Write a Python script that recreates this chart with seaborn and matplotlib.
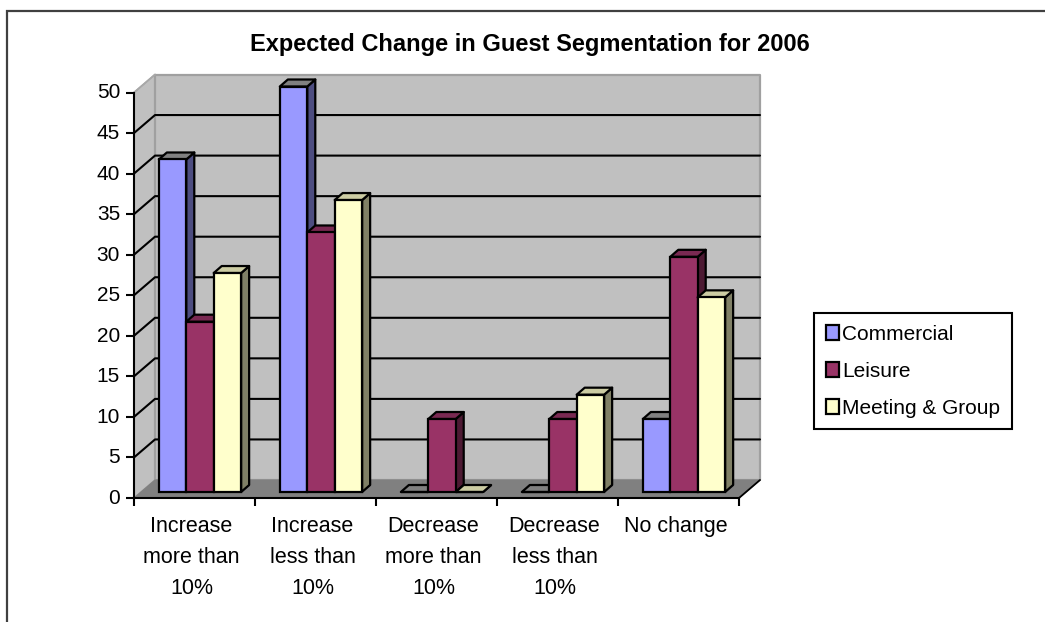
import matplotlib
matplotlib.use("Agg")
import matplotlib.pyplot as plt
import seaborn as sns
import pandas as pd
from matplotlib.patches import Polygon, Rectangle
from matplotlib.transforms import Affine2D, IdentityTransform

categories = ["Increase\nmore than\n10%", "Increase\nless than\n10%", "Decrease\nmore than\n10%",
              "Decrease\nless than\n10%", "No change"]
series = ["Commercial", "Leisure", "Meeting & Group"]
commercial = [41, 50, 0, 0, 9]
leisure = [21, 32, 9, 9, 29]
meeting = [27, 36, 0, 12, 24]
y_ticks = list(range(0, 55, 5))
title = "Expected Change in Guest Segmentation for 2006"

front = {"Commercial": "#9999FF", "Leisure": "#993366", "Meeting & Group": "#FFFFCC"}
side = {"Commercial": "#4D4D80", "Leisure": "#4D1A33", "Meeting & Group": "#808066"}
top = {"Commercial": "#808080", "Leisure": "#7A2952", "Meeting & Group": "#CCCCA3"}

df = pd.DataFrame({"category": categories * 3,
                   "series": [s for s in series for _ in categories],
                   "value": commercial + leisure + meeting})

sns.set_theme(style="white")
plt.rcParams["font.family"] = ["Liberation Sans", "DejaVu Sans"]

W, H = 1045, 622
fig = plt.figure(figsize=(W / 100, H / 100), dpi=100, facecolor="white")
fig.add_artist(Rectangle((7 / W, -0.02), 1.1, 1 - 11 / H + 0.02, transform=fig.transFigure,
                         fc="white", ec="#404040", lw=1.6, zorder=-5))
ax = fig.add_axes([134 / W, 1 - 498 / H, 605 / W, 405.5 / H])
ax.patch.set_alpha(0)

sns.barplot(data=df, x="category", y="value", hue="series", order=categories, hue_order=series,
            palette=front, width=0.68, saturation=1, edgecolor="black", linewidth=1.6, ax=ax)
ax.set_xlim(-0.5, 4.5)
ax.set_ylim(0, 50)
ax.set_xlabel("")
ax.set_ylabel("")

DEPTH = (21, 18)
BAR_FRONT = (5.5, 6)
BAR_SIDE = (8, 7)


def disp(x, y, dx=0, dy=0):
    px, py = ax.transData.transform((x, y))
    return (px + dx, py + dy)


def poly(points, fc, ec, z, lw=1.6):
    ax.add_patch(Polygon(points, closed=True, fc=fc, ec=ec, lw=lw, zorder=z,
                         transform=IdentityTransform(), clip_on=False, joinstyle="round"))


# walls and floor
x0, x1 = ax.get_xlim()
y0, y1 = ax.get_ylim()
dx, dy = DEPTH
poly([disp(x0, y0), disp(x0, y0, dx, dy), disp(x0, y1, dx, dy), disp(x0, y1)], "#C0C0C0", "#A8A8A8", 0.5, 1.2)
poly([disp(x0, y0, dx, dy), disp(x1, y0, dx, dy), disp(x1, y1, dx, dy), disp(x0, y1, dx, dy)], "#C0C0C0", "#A0A0A0", 0.6, 1.6)
poly([disp(x0, y0), disp(x1, y0), disp(x1, y0, dx, dy), disp(x0, y0, dx, dy)], "#808080", "#808080", 0.7, 0.8)
for v in y_ticks[1:-1]:
    a, b, c = disp(x0, v), disp(x0, v, dx, dy), disp(x1, v, dx, dy)
    ax.plot([a[0], b[0], c[0]], [a[1], b[1], c[1]], color="black", lw=1.5, zorder=0.8,
            transform=IdentityTransform(), clip_on=False)
a, b = disp(x0, y1), disp(x0, y1, dx, dy)
ax.plot([a[0], b[0]], [a[1], b[1]], color="#A8A8A8", lw=1.2, zorder=0.8, transform=IdentityTransform(), clip_on=False)
a, b = disp(x1, y0), disp(x1, y0, dx, dy)
ax.plot([a[0], b[0]], [a[1], b[1]], color="black", lw=1.3, zorder=0.8, transform=IdentityTransform(), clip_on=False)

# 3-D bars built from the bars seaborn drew
shift = ax.transData + Affine2D().translate(*BAR_FRONT)
fx, fy = BAR_FRONT
sx, sy = BAR_SIDE
for s_i, (name, cont) in enumerate(zip(series, ax.containers)):
    for c_i, bar in enumerate(cont):
        left, right = bar.get_x(), bar.get_x() + bar.get_width()
        h = bar.get_height()
        z = 2 + c_i * 10 + s_i * 2
        ox, oy = fx, fy
        poly([disp(right, 0, ox, oy), disp(right, 0, ox + sx, oy + sy), disp(right, h, ox + sx, oy + sy), disp(right, h, ox, oy)],
             side[name], "black", z)
        poly([disp(left, h, ox, oy), disp(right, h, ox, oy), disp(right, h, ox + sx, oy + sy), disp(left, h, ox + sx, oy + sy)],
             top[name], "black", z + 0.1)
        bar.set_transform(shift)
        bar.set_clip_on(False)
        bar.set_zorder(z + 0.5)

# axes, ticks
for k in ("top", "right"):
    ax.spines[k].set_visible(False)
for k in ("left", "bottom"):
    ax.spines[k].set_linewidth(1.5)
    ax.spines[k].set_color("black")
    ax.spines[k].set_zorder(1)
ax.set_yticks(y_ticks)
ax.tick_params(axis="y", which="major", left=True, length=6, width=1.5, color="black", pad=4,
               labelsize=15, labelcolor="black")
for lab in ax.get_yticklabels():
    lab.set_transform(lab.get_transform() + Affine2D().translate(0, 1.5))
centers = list(range(len(categories)))
ax.set_xticks(centers, categories)
ax.set_xticks([c - 0.5 for c in centers] + [centers[-1] + 0.5], minor=True)
ax.tick_params(axis="x", which="major", length=0, pad=13, labelsize=15.5, labelcolor="black")
ax.tick_params(axis="x", which="minor", bottom=True, length=6, width=1.5, color="black")
for lab in ax.get_xticklabels():
    lab.set_linespacing(1.62)
    lab.set_transform(lab.get_transform() + Affine2D().translate(-3, 0))

fig.text(530 / W, 1 - 44.5 / H, title, ha="center", va="center", fontsize=17, fontweight="bold", color="black")

# legend
sns.move_legend(ax, loc="upper left", bbox_to_anchor=(814 / W, 1 - 313 / H),
                bbox_transform=fig.transFigure, title=None, frameon=True, fancybox=False,
                edgecolor="black", framealpha=1, fontsize=15, borderaxespad=0, handlelength=0.62,
                handleheight=0.72, handletextpad=0.16, labelspacing=0.86, borderpad=0.56)
leg = ax.get_legend()
leg.get_frame().set_linewidth(1.5)
leg.set_zorder(100)
for t in leg.get_texts():
    t.set_color("black")

fig.savefig("out.png", dpi=100)
